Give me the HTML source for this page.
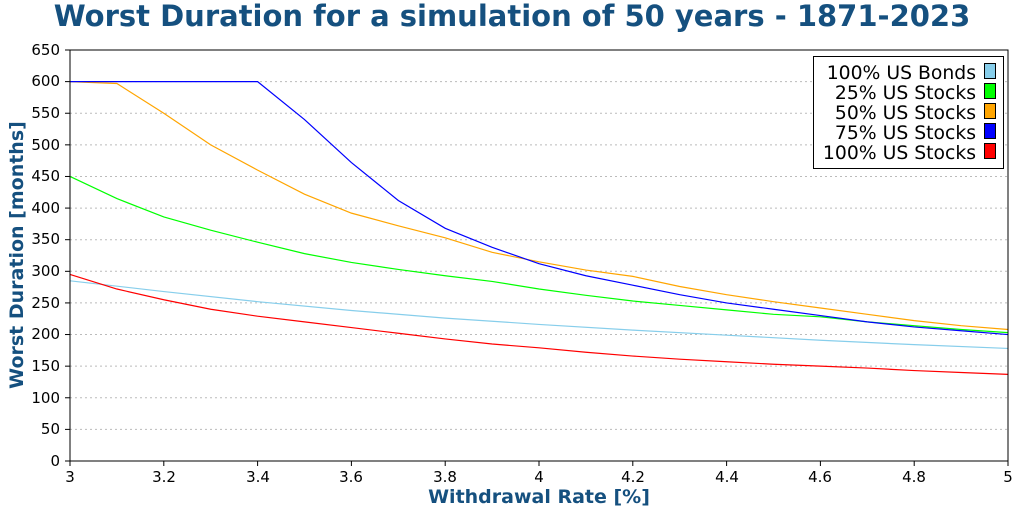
<!DOCTYPE html>
<html><head><meta charset="utf-8"><style>
html,body{margin:0;padding:0;background:#fff;}
svg{display:block;font-family:"DejaVu Sans","Liberation Sans",sans-serif;}
</style></head><body>
<svg id="s" width="1024" height="512" viewBox="0 0 1024 512" xmlns="http://www.w3.org/2000/svg">
<rect width="1024" height="512" fill="#fff"/>
<text x="512" y="26" text-anchor="middle" font-size="29" font-weight="bold" fill="#15507f">Worst Duration for a simulation of 50 years - 1871-2023</text>
<g id="grid" stroke="#bbb" stroke-dasharray="2,3" stroke-width="1"></g>
<g id="series" fill="none" stroke-width="1.2"></g>
<rect x="70" y="50" width="938" height="411" fill="none" stroke="#000" stroke-width="1"/>
<g id="ticks" stroke="#000"></g>
<g font-size="15" text-anchor="end" fill="#000">
<text x="60" y="466">0</text><text x="60" y="434">50</text><text x="60" y="403">100</text><text x="60" y="371">150</text><text x="60" y="339">200</text><text x="60" y="308">250</text><text x="60" y="276">300</text><text x="60" y="244">350</text><text x="60" y="213">400</text><text x="60" y="181">450</text><text x="60" y="150">500</text><text x="60" y="118">550</text><text x="60" y="86">600</text><text x="60" y="55">650</text>
</g>
<g font-size="15" text-anchor="middle" fill="#000">
<text x="70" y="482">3</text><text x="164" y="482">3.2</text><text x="258" y="482">3.4</text><text x="351" y="482">3.6</text><text x="445" y="482">3.8</text><text x="539" y="482">4</text><text x="633" y="482">4.2</text><text x="727" y="482">4.4</text><text x="820" y="482">4.6</text><text x="914" y="482">4.8</text><text x="1008" y="482">5</text>
</g>
<text x="539" y="503" text-anchor="middle" font-size="19" font-weight="bold" fill="#15507f">Withdrawal Rate [%]</text>
<text transform="translate(23,255) rotate(-90)" text-anchor="middle" font-size="19" font-weight="bold" fill="#15507f">Worst Duration [months]</text>
<rect x="813.5" y="56.5" width="190" height="112" fill="#fff" stroke="#000"/>
<g font-size="18.8" text-anchor="end" fill="#000">
<text x="976" y="79">100% US Bonds</text>
<text x="976" y="99">25% US Stocks</text>
<text x="976" y="119">50% US Stocks</text>
<text x="976" y="139">75% US Stocks</text>
<text x="976" y="159">100% US Stocks</text>
</g>
<g stroke="#000">
<rect x="984.5" y="63.5" width="11" height="15" fill="#87ceeb"/>
<rect x="984.5" y="83.5" width="11" height="15" fill="#00ff00"/>
<rect x="984.5" y="103.5" width="11" height="15" fill="#ffa500"/>
<rect x="984.5" y="123.5" width="11" height="15" fill="#0000ff"/>
<rect x="984.5" y="143.5" width="11" height="15" fill="#ff0000"/>
</g>
</svg>
<script>
var NS="http://www.w3.org/2000/svg";
function X(v){return 70+(v-3)*469;}
function Y(v){return 461-v*0.6323;}
var g=document.getElementById("grid"),t=document.getElementById("ticks");
for(var k=1;k<=13;k++){var y=Y(k*50);var l=document.createElementNS(NS,"line");l.setAttribute("x1",70);l.setAttribute("x2",1008);l.setAttribute("y1",y);l.setAttribute("y2",y);g.appendChild(l);}
for(var k=0;k<=13;k++){var y=Y(k*50);var l=document.createElementNS(NS,"line");l.setAttribute("x1",65);l.setAttribute("x2",70);l.setAttribute("y1",y);l.setAttribute("y2",y);t.appendChild(l);}
for(var k=0;k<=10;k++){var x=X(3+k*0.2);var l=document.createElementNS(NS,"line");l.setAttribute("x1",x);l.setAttribute("x2",x);l.setAttribute("y1",461);l.setAttribute("y2",466);t.appendChild(l);}
var S=[
["#87ceeb",[[3,285],[3.2,268],[3.4,252],[3.6,238],[3.8,226],[4,216],[4.2,207],[4.4,199],[4.6,191],[4.8,184],[5,178]]],
["#00ff00",[450,415,386,365,346,328,314,303,293,284,272,262,253,246,239,232,228,220,214,208,203]],
["#ffa500",[600,597,550,500,460,422,392,372,353,330,315,302,292,276,263,252,242,232,222,214,208]],
["#0000ff",[600,600,600,600,600,540,472,412,368,338,312,293,278,263,250,240,230,220,212,206,200]],
["#ff0000",[295,272,255,240,229,220,211,202,193,185,179,172,166,161,157,153,150,147,143,140,137]]
];
var sg=document.getElementById("series");
S.forEach(function(s){var pts=s[1].map(function(p,i){return Array.isArray(p)?X(p[0])+","+Y(p[1]):X(3+i*0.1)+","+Y(p);}).join(" ");
var pl=document.createElementNS(NS,"polyline");pl.setAttribute("points",pts);pl.setAttribute("stroke",s[0]);sg.appendChild(pl);});
</script>
</body></html>
